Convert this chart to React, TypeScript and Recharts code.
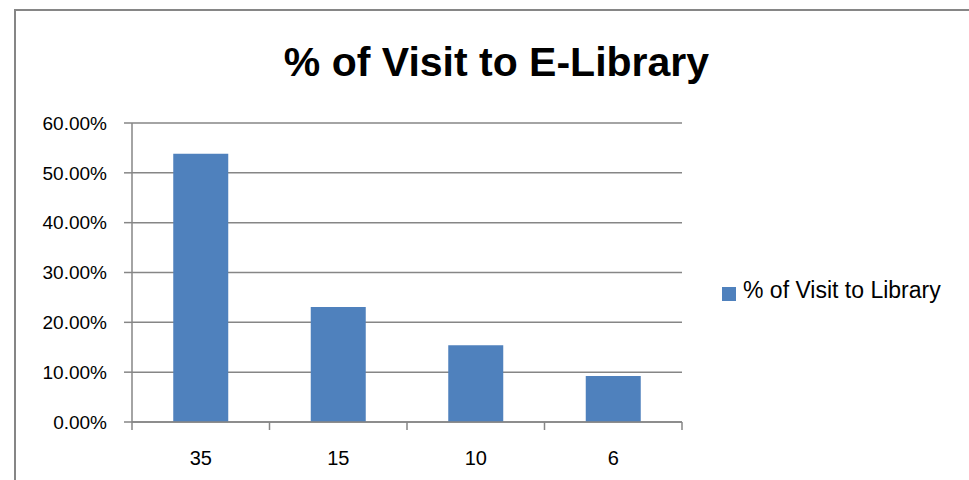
import * as React from "react";
import {
  BarChart,
  Bar,
  XAxis,
  YAxis,
  CartesianGrid,
  Legend,
} from "recharts";

const CATEGORIES = ["35", "15", "10", "6"];
const VISIT_SHARE = [0.5385, 0.2308, 0.1538, 0.0923];
const Y_TICKS = [0, 0.1, 0.2, 0.3, 0.4, 0.5, 0.6];
const BOUNDARY_TICKS = [0, 1, 2, 3, 4];

const SERIES_NAME = "% of Visit to Library";
const TITLE = "% of Visit to E-Library";

const data = CATEGORIES.map((name, i) => ({ name, value: VISIT_SHARE[i] }));

const FONT = '"Liberation Sans", Arial, sans-serif';
const GRAY = "#868686";
const BLUE = "#4F81BD";

export default function App() {
  return (
    <div
      style={{
        position: "absolute",
        left: 0,
        top: 0,
        width: 969,
        height: 480,
        background: "#fff",
        overflow: "hidden",
        fontFamily: FONT,
      }}
    >
      {/* outer chart frame */}
      <div
        style={{
          position: "absolute",
          left: 14,
          top: 9,
          width: 1000,
          height: 600,
          border: `2px solid ${GRAY}`,
          boxSizing: "border-box",
        }}
      />
      <div
        style={{
          position: "absolute",
          left: 0,
          top: 42,
          width: 993,
          textAlign: "center",
          fontSize: 41,
          lineHeight: "41px",
          fontWeight: "bold",
          color: "#000",
        }}
      >
        {TITLE}
      </div>
      <div style={{ position: "absolute", left: 0, top: 0 }}>
        <BarChart
          width={969}
          height={480}
          data={data}
          margin={{ top: 123, right: 287, bottom: 7, left: 22 }}
          barCategoryGap="30%"
        >
          <CartesianGrid
            vertical={false}
            stroke={GRAY}
            strokeWidth={1.5}
            xAxisId="cat"
          />
          {/* category boundary ticks, Excel style (domain fixed to the 4 slots) */}
          <XAxis
            type="number"
            dataKey="value"
            domain={[0, CATEGORIES.length]}
            allowDataOverflow
            ticks={BOUNDARY_TICKS}
            tick={() => <g />}
            tickSize={8}
            height={1}
            axisLine={{ stroke: GRAY, strokeWidth: 1.5 }}
            tickLine={{ stroke: GRAY, strokeWidth: 1.5 }}
          />
          <XAxis
            xAxisId="cat"
            dataKey="name"
            height={50}
            axisLine={false}
            tickLine={false}
            tickSize={0}
            tickMargin={28}
            tick={{ fill: "#000", fontSize: 20, fontFamily: FONT }}
          />
          <YAxis
            width={110}
            domain={[0, 0.6]}
            ticks={Y_TICKS}
            tickFormatter={(v: number) => `${(v * 100).toFixed(2)}%`}
            tickSize={8}
            tickMargin={17}
            axisLine={{ stroke: GRAY, strokeWidth: 1.5 }}
            tickLine={{ stroke: GRAY, strokeWidth: 1.5 }}
            tick={{ fill: "#000", fontSize: 19, fontFamily: FONT }}
          />
          <Legend
            layout="horizontal"
            verticalAlign="middle"
            align="center"
            iconType="square"
            iconSize={14}
            wrapperStyle={{ left: 722, top: 277, width: "auto" }}
            formatter={(value: string) => (
              <span
                style={{
                  color: "#000",
                  fontSize: 23,
                  fontFamily: FONT,
                  marginLeft: 3,
                }}
              >
                {value}
              </span>
            )}
          />
          <Bar
            xAxisId="cat"
            dataKey="value"
            name={SERIES_NAME}
            fill={BLUE}
            isAnimationActive={false}
          />
        </BarChart>
      </div>
    </div>
  );
}
